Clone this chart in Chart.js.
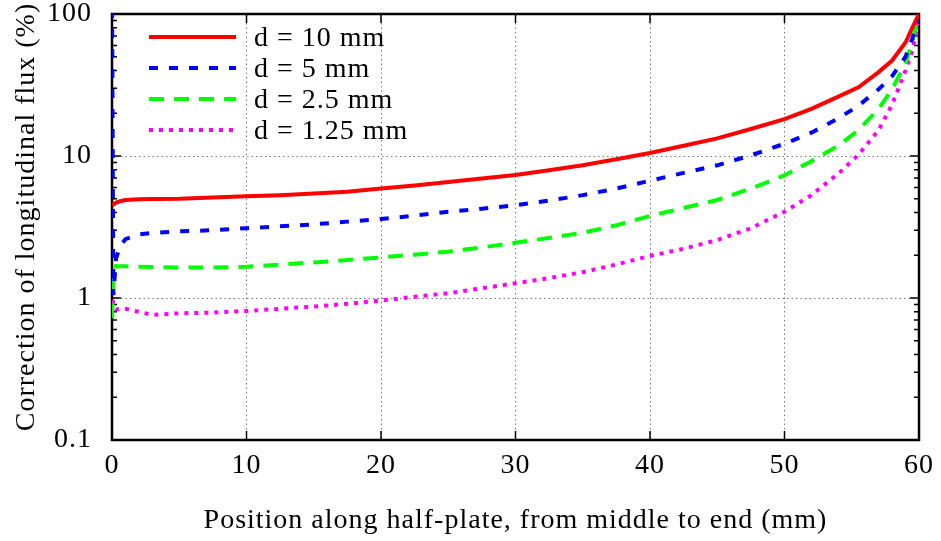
<!DOCTYPE html>
<html>
<head>
<meta charset="utf-8">
<script src="https://cdn.jsdelivr.net/npm/chart.js@4/dist/chart.umd.min.js"></script>
<style>
  html, body { margin: 0; padding: 0; background: #fff; }
  #wrap { width: 941px; height: 541px; }
</style>
</head>
<body>
<div id="wrap"><canvas id="grafico"></canvas></div>
<script>
// Datos (posición en mm, corrección en %)
const posiciones = [0, 0.1, 0.3, 0.6, 1, 2, 3, 5, 7.5, 10, 12.5, 15, 17.5, 20, 22.5, 25, 27.5, 30,
  32.5, 35, 37.5, 40, 42.5, 45, 47.5, 50, 52, 54, 55.5, 57, 58, 59, 59.5, 60];

const d10 = [4.5, 4.55, 4.7, 4.8, 4.9, 4.95, 4.97, 5.0, 5.1, 5.2, 5.3, 5.45, 5.6, 5.9, 6.2, 6.55, 6.95, 7.35,
  7.95, 8.6, 9.5, 10.5, 11.8, 13.3, 15.5, 18.2, 21.5, 26.2, 30.5, 39, 47, 63, 80, 100];
const d5 = [150, 1.05, 1.9, 2.3, 2.6, 2.8, 2.87, 2.95, 3.0, 3.1, 3.2, 3.3, 3.45, 3.6, 3.8, 4.05, 4.25, 4.5,
  4.85, 5.3, 5.9, 6.7, 7.6, 8.6, 10.1, 12.2, 14.6, 18.4, 22.6, 29.5, 36.5, 50, 67, 95];
const d25 = [0.72, 1.3, 1.68, 1.67, 1.67, 1.66, 1.65, 1.64, 1.64, 1.66, 1.72, 1.78, 1.85, 1.93, 2.02, 2.12, 2.27, 2.45,
  2.65, 2.88, 3.25, 3.78, 4.3, 4.9, 5.9, 7.3, 9.2, 11.8, 15.2, 21.5, 29.5, 45, 63, 100];
const d125 = [1.14, 0.86, 0.83, 0.84, 0.84, 0.8, 0.76, 0.78, 0.79, 0.81, 0.84, 0.87, 0.91, 0.96, 1.02, 1.08, 1.17, 1.27,
  1.38, 1.52, 1.72, 1.98, 2.22, 2.56, 3.1, 4.05, 5.3, 7.5, 10.2, 15.2, 23, 40, 55, 92];

const etiquetas = ["d = 10 mm", "d = 5 mm", "d = 2.5 mm", "d = 1.25 mm"];
const ticksY = [0.1, 1, 10, 100];
const ticksX = [0, 10, 20, 30, 40, 50, 60];
const tituloY = "Correction of longitudinal flux (%)";
const tituloX = "Position along half-plate, from middle to end (mm)";

const fuente = "'Liberation Serif', 'Times New Roman', serif";
const tamFuente = 28;

// Convierte una serie a puntos {x, y}
function crearPuntos(serie) {
  return posiciones.map((x, i) => ({ x: x, y: serie[i] }));
}

function crearDataset(label, serie, color, dash) {
  return {
    label: label,
    data: crearPuntos(serie),
    borderColor: color,
    borderWidth: 4,
    borderDash: dash,
    pointRadius: 0,
    tension: 0,
    fill: false
  };
}

const datasets = [
  crearDataset(etiquetas[0], d10, "#ff0000", []),
  crearDataset(etiquetas[1], d5, "#0000ff", [9, 11]),
  crearDataset(etiquetas[2], d25, "#00ff00", [15, 10]),
  crearDataset(etiquetas[3], d125, "#ff00ff", [4, 6])
];

// Marco, marcas de los ejes, título Y y leyenda
const marcoPlugin = {
  id: "marco",
  beforeDraw(chart) {
    // el texto del original es algo más ancho
    chart.ctx.letterSpacing = "1px";
  },
  beforeDatasetsDraw(chart) {
    const { ctx, chartArea: a, scales } = chart;
    ctx.save();
    ctx.strokeStyle = "#000";
    ctx.lineWidth = 1.5;
    ctx.beginPath();
    ticksX.forEach(v => {
      const px = scales.x.getPixelForValue(v);
      ctx.moveTo(px, a.bottom); ctx.lineTo(px, a.bottom - 9);
      ctx.moveTo(px, a.top); ctx.lineTo(px, a.top + 9);
    });
    for (let dec = 0.1; dec < 100; dec *= 10) {
      for (let m = 1; m <= 9; m++) {
        const py = scales.y.getPixelForValue(dec * m);
        const largo = m === 1 ? 9 : 5;
        ctx.moveTo(a.left, py); ctx.lineTo(a.left + largo, py);
        ctx.moveTo(a.right, py); ctx.lineTo(a.right - largo, py);
      }
    }
    ctx.stroke();
    ctx.lineWidth = 2.5;
    ctx.strokeRect(a.left, a.top, a.right - a.left, a.bottom - a.top);

    // título del eje Y
    ctx.fillStyle = "#000";
    ctx.font = tamFuente + "px " + fuente;
    ctx.textAlign = "center";
    ctx.textBaseline = "middle";
    ctx.translate(27, 217);
    ctx.rotate(-Math.PI / 2);
    ctx.fillText(tituloY, 0, 0);
    ctx.restore();
  },
  afterDatasetsDraw(chart) {
    const { ctx } = chart;
    ctx.save();
    chart.data.datasets.forEach((ds, i) => {
      const y = 37 + i * 31;
      ctx.strokeStyle = ds.borderColor;
      ctx.lineWidth = ds.borderWidth;
      ctx.setLineDash(ds.borderDash);
      ctx.beginPath();
      ctx.moveTo(149, y);
      ctx.lineTo(236, y);
      ctx.stroke();
      ctx.setLineDash([]);
      ctx.fillStyle = "#000";
      ctx.font = tamFuente + "px " + fuente;
      ctx.textBaseline = "middle";
      ctx.fillText(ds.label, 254, y + 2);
    });
    ctx.restore();
  }
};

const ctx = document.getElementById("grafico").getContext("2d");
new Chart(ctx, {
  type: "line",
  data: { datasets: datasets },
  options: {
    responsive: true,
    maintainAspectRatio: false,
    animation: false,
    devicePixelRatio: 1,
    layout: { padding: { top: 14, right: 22, left: 0, bottom: 0 } },
    plugins: { legend: { display: false }, tooltip: { enabled: false } },
    scales: {
      x: {
        type: "linear",
        min: 0,
        max: 60,
        afterBuildTicks: (scale) => { scale.ticks = ticksX.map(v => ({ value: v })); },
        afterFit: (scale) => {
          scale.height = 101;
          scale.paddingLeft = 0;
          scale.paddingRight = 0;
        },
        ticks: { color: "#000", font: { family: fuente, size: tamFuente }, padding: 9, maxRotation: 0 },
        grid: { color: "#777", lineWidth: 1, drawTicks: false },
        border: { display: false, dash: [1.5, 3] },
        title: {
          display: true,
          text: tituloX,
          color: "#000",
          font: { family: fuente, size: tamFuente },
          padding: { top: 0, bottom: 4 }
        }
      },
      y: {
        type: "logarithmic",
        min: 0.1,
        max: 100,
        afterBuildTicks: (scale) => { scale.ticks = ticksY.map(v => ({ value: v })); },
        afterFit: (scale) => {
          scale.width = 112;
          scale.paddingTop = 0;
          scale.paddingBottom = 0;
        },
        ticks: { color: "#000", font: { family: fuente, size: tamFuente }, padding: 20, callback: (v) => String(v) },
        grid: { color: "#777", lineWidth: 1, drawTicks: false },
        border: { display: false, dash: [1.5, 3] }
      }
    }
  },
  plugins: [marcoPlugin]
});
</script>
</body>
</html>
